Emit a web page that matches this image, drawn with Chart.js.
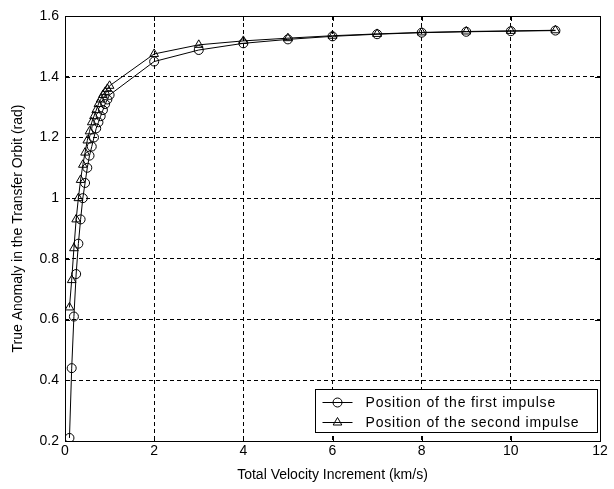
<!DOCTYPE html>
<html>
<head>
<meta charset="utf-8">
<script src="https://cdn.jsdelivr.net/npm/chart.js@4"></script>
<style>
    html, body { margin: 0; padding: 0; background: #fff; }
    #wrap { width: 614px; height: 489px; }
</style>
</head>
<body>
<div id="wrap"><canvas id="orbitChart" width="614" height="489"></canvas></div>
<script>
// Datos
const deltaV = [0.1, 0.15, 0.2, 0.25, 0.3, 0.35, 0.4, 0.45, 0.5, 0.55, 0.6, 0.65, 0.7, 0.75, 0.8, 0.85, 0.9, 0.95, 1.0,
    2, 3, 4, 5, 6, 7, 8, 9, 10, 11];
const firstImpulse = [0.21, 0.44, 0.61, 0.75, 0.85, 0.93, 1.00, 1.05, 1.10, 1.14, 1.17, 1.20, 1.23, 1.25, 1.27, 1.29, 1.31, 1.325, 1.34,
    1.45, 1.488, 1.51, 1.523, 1.533, 1.54, 1.545, 1.548, 1.55, 1.552];
const secondImpulse = [0.64, 0.73, 0.835, 0.93, 1.00, 1.06, 1.11, 1.15, 1.19, 1.22, 1.25, 1.27, 1.29, 1.31, 1.325, 1.34, 1.35, 1.36, 1.37,
    1.475, 1.505, 1.518, 1.527, 1.535, 1.541, 1.546, 1.549, 1.551, 1.553];
const xTicks = [0, 2, 4, 6, 8, 10, 12];
const yTicks = [0.2, 0.4, 0.6, 0.8, 1.0, 1.2, 1.4, 1.6];
const seriesLabels = ['Position of the first impulse', 'Position of the second impulse'];

const FONT = "'Liberation Sans', Arial, sans-serif";

function toPoints(ys) {
    return deltaV.map((x, i) => ({ x: x, y: ys[i] }));
}

function fmt(v) {
    return String(Number(v.toFixed(1)));
}

// Marco, marcas interiores y leyenda al estilo MATLAB
const matlabFrame = {
    id: 'matlabFrame',
    afterDraw(chart) {
        const ctx = chart.ctx;
        const a = chart.chartArea;
        const xs = chart.scales.x;
        const ys = chart.scales.y;
        ctx.save();
        ctx.strokeStyle = '#000';
        ctx.lineWidth = 1;
        ctx.setLineDash([]);
        ctx.strokeRect(Math.round(a.left) + 0.5, Math.round(a.top) + 0.5,
            Math.round(a.right - a.left), Math.round(a.bottom - a.top));

        // marcas de graduación hacia dentro
        ctx.beginPath();
        xTicks.forEach(v => {
            const px = Math.round(xs.getPixelForValue(v)) + 0.5;
            ctx.moveTo(px, a.bottom); ctx.lineTo(px, a.bottom - 5);
            ctx.moveTo(px, a.top); ctx.lineTo(px, a.top + 5);
        });
        yTicks.forEach(v => {
            const py = Math.round(ys.getPixelForValue(v)) + 0.5;
            ctx.moveTo(a.left, py); ctx.lineTo(a.left + 5, py);
            ctx.moveTo(a.right, py); ctx.lineTo(a.right - 5, py);
        });
        ctx.stroke();

        // leyenda
        const w = 282, h = 43;
        const lx = Math.round(a.right - 3 - w) + 0.5;
        const ly = Math.round(a.bottom - 9 - h) + 0.5;
        ctx.fillStyle = '#fff';
        ctx.fillRect(lx, ly, w, h);
        ctx.strokeRect(lx, ly, w, h);
        ctx.font = '14px ' + FONT;
        ctx.letterSpacing = '0.8px';
        ctx.textBaseline = 'middle';
        const styles = ['circle', 'triangle'];
        seriesLabels.forEach((label, i) => {
            const cy = Math.round(ly + 12 + i * 20) + 0.5;
            ctx.beginPath();
            ctx.moveTo(lx + 7, cy); ctx.lineTo(lx + 37, cy);
            ctx.stroke();
            const ds = chart.data.datasets[i];
            ctx.fillStyle = 'rgba(0,0,0,0)';
            Chart.helpers.drawPoint(ctx, {
                pointStyle: styles[i], radius: ds.pointRadius, rotation: 0, borderWidth: 1
            }, lx + 22, cy);
            ctx.fillStyle = '#000';
            ctx.fillText(label, lx + 50, cy + 1);
        });
        ctx.restore();
    }
};

const ctx = document.getElementById('orbitChart').getContext('2d');
new Chart(ctx, {
    type: 'line',
    data: {
        datasets: [{
            label: seriesLabels[0],
            data: toPoints(firstImpulse),
            borderColor: '#000',
            borderWidth: 1,
            pointStyle: 'circle',
            pointRadius: 4.5,
            pointBorderColor: '#000',
            pointBackgroundColor: 'rgba(0,0,0,0)',
            pointBorderWidth: 1,
            tension: 0
        }, {
            label: seriesLabels[1],
            data: toPoints(secondImpulse),
            borderColor: '#000',
            borderWidth: 1,
            pointStyle: 'triangle',
            pointRadius: 5,
            pointBorderColor: '#000',
            pointBackgroundColor: 'rgba(0,0,0,0)',
            pointBorderWidth: 1,
            tension: 0
        }]
    },
    options: {
        responsive: false,
        animation: false,
        devicePixelRatio: 1,
        layout: { padding: { left: 0, right: 14, top: 16, bottom: 0 } },
        plugins: {
            legend: { display: false },
            tooltip: { enabled: false }
        },
        scales: {
            x: {
                type: 'linear',
                min: 0,
                max: 12,
                afterFit(scale) { scale.height = 48; },
                afterBuildTicks(scale) { scale.ticks = xTicks.map(v => ({ value: v })); },
                ticks: {
                    color: '#000',
                    padding: 2,
                    font: { family: FONT, size: 14 },
                    maxRotation: 0,
                    callback: v => String(v)
                },
                grid: { color: '#000', lineWidth: 1, drawTicks: false },
                border: { display: false, dash: [4, 3] },
                title: {
                    display: true,
                    text: 'Total Velocity Increment (km/s)',
                    color: '#000',
                    font: { family: FONT, size: 14 },
                    padding: { top: 2, bottom: 5 }
                }
            },
            y: {
                type: 'linear',
                min: 0.2,
                max: 1.6,
                afterFit(scale) { scale.width = 65; },
                afterBuildTicks(scale) { scale.ticks = yTicks.map(v => ({ value: v })); },
                ticks: {
                    color: '#000',
                    padding: 6,
                    font: { family: FONT, size: 14 },
                    callback: v => fmt(v)
                },
                grid: { color: '#000', lineWidth: 1, drawTicks: false },
                border: { display: false, dash: [4, 3] },
                title: {
                    display: true,
                    text: 'True Anomaly in the Transfer Orbit (rad)',
                    color: '#000',
                    font: { family: FONT, size: 14 },
                    padding: { top: 10, bottom: 0 }
                }
            }
        }
    },
    plugins: [matlabFrame]
});
</script>
</body>
</html>
